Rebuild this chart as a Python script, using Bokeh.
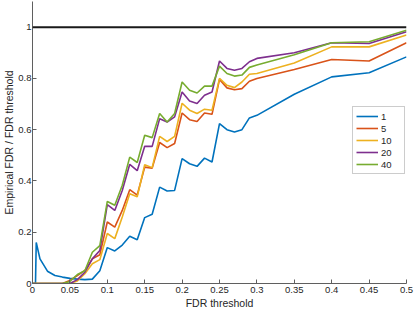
from bokeh.plotting import figure
from bokeh.models import Range1d, FixedTicker, Span
from bokeh.embed import file_html
from bokeh.resources import INLINE

# ---------------- data ----------------
thresholds = [0, 0.004, 0.005, 0.01, 0.02, 0.03, 0.04,
              0.05, 0.06, 0.07, 0.08, 0.09, 0.10, 0.11, 0.12, 0.13, 0.14,
              0.15, 0.16, 0.17, 0.18, 0.19, 0.20, 0.21, 0.22, 0.23, 0.24,
              0.25, 0.26, 0.27, 0.28, 0.29, 0.30,
              0.35, 0.40, 0.45, 0.50]

series_names = ["1", "5", "10", "20", "40"]

s1 = [0, 0, 0.160, 0.096, 0.048, 0.031, 0.025,
      0.020, 0.017, 0.015, 0.017, 0.050, 0.140, 0.127, 0.150, 0.184, 0.171,
      0.257, 0.270, 0.376, 0.361, 0.363, 0.487, 0.467, 0.457, 0.489, 0.474,
      0.624, 0.600, 0.591, 0.600, 0.646, 0.656,
      0.738, 0.806, 0.822, 0.884]

s5 = [0, 0, 0, 0, 0, 0, 0,
      0.012, 0.031, 0.051, 0.096, 0.112, 0.240, 0.220, 0.285, 0.366, 0.345,
      0.454, 0.450, 0.550, 0.530, 0.546, 0.665, 0.639, 0.632, 0.665, 0.660,
      0.796, 0.763, 0.756, 0.760, 0.789, 0.800,
      0.835, 0.874, 0.868, 0.939]

s10 = [0, 0, 0, 0, 0, 0, 0,
       0.000, 0.010, 0.038, 0.077, 0.093, 0.195, 0.175, 0.259, 0.350, 0.338,
       0.463, 0.452, 0.574, 0.554, 0.574, 0.703, 0.676, 0.663, 0.680, 0.676,
       0.800, 0.773, 0.764, 0.786, 0.816, 0.819,
       0.860, 0.923, 0.923, 0.969]

s20 = [0, 0, 0, 0, 0, 0, 0,
       0.000, 0.015, 0.044, 0.096, 0.129, 0.308, 0.285, 0.363, 0.465, 0.440,
       0.535, 0.535, 0.643, 0.630, 0.650, 0.747, 0.712, 0.702, 0.734, 0.747,
       0.868, 0.839, 0.832, 0.839, 0.865, 0.878,
       0.900, 0.939, 0.936, 0.982]

s40 = [0, 0, 0, 0, 0, 0, 0,
       0.008, 0.035, 0.050, 0.122, 0.148, 0.320, 0.305, 0.383, 0.493, 0.472,
       0.578, 0.569, 0.663, 0.630, 0.663, 0.786, 0.754, 0.743, 0.770, 0.770,
       0.848, 0.819, 0.809, 0.813, 0.843, 0.852,
       0.892, 0.939, 0.943, 0.988]

ref_level = 1

x_ticks = [0, 0.05, 0.1, 0.15, 0.2, 0.25, 0.3, 0.35, 0.4, 0.45, 0.5]
x_tick_labels = ["0", "0.05", "0.1", "0.15", "0.2", "0.25", "0.3", "0.35", "0.4", "0.45", "0.5"]
y_ticks = [0, 0.2, 0.4, 0.6, 0.8, 1]
y_tick_labels = ["0", "0.2", "0.4", "0.6", "0.8", "1"]

colors = ["#0072BD", "#D95319", "#EDB120", "#7E2F8E", "#77AC30"]

# ---------------- figure ----------------
FONT = "Liberation Sans"
TXT = "#262626"

p = figure(width=415, height=312, output_backend="svg", toolbar_location=None,
           x_range=Range1d(0, 0.5), y_range=Range1d(0, 1.1),
           min_border_left=24, min_border_right=9, min_border_top=1,
           min_border_bottom=29)
p.outline_line_color = None
p.grid.visible = False
p.background_fill_color = "white"
p.border_fill_color = "white"

for ax in (p.xaxis[0], p.yaxis[0]):
    ax.axis_line_color = "#5f5f5f"
    ax.axis_line_width = 1
    ax.major_tick_line_color = "#5f5f5f"
    ax.major_tick_in = 4
    ax.major_tick_out = 0
    ax.minor_tick_line_color = None
    ax.major_label_text_font = FONT
    ax.major_label_text_font_size = "9.5px"
    ax.major_label_text_color = TXT
    ax.axis_label_text_font = FONT
    ax.axis_label_text_font_size = "10.5px"
    ax.axis_label_text_color = TXT
    ax.axis_label_text_font_style = "normal"

p.xaxis.ticker = FixedTicker(ticks=x_ticks)
p.xaxis.major_label_overrides = dict(zip(x_ticks, x_tick_labels))
p.xaxis.axis_label = "FDR threshold"
p.xaxis.major_label_standoff = 3
p.xaxis.axis_label_standoff = 1

p.yaxis.ticker = FixedTicker(ticks=y_ticks)
p.yaxis.major_label_overrides = dict(zip(y_ticks, y_tick_labels))
p.yaxis.axis_label = "Empirical FDR / FDR threshold"
p.yaxis.major_label_standoff = 1
p.yaxis.axis_label_standoff = 0

p.add_layout(Span(location=ref_level, dimension="width", line_color="#1a1a1a",
                  line_width=2))

for name, ys, c in zip(series_names, [s1, s5, s10, s20, s40], colors):
    p.line(thresholds, ys, line_color=c, line_width=1.6, legend_label=name)

lg = p.legend[0]
lg.location = (320, 109)
lg.label_text_font = FONT
lg.label_text_font_size = "9.5px"
lg.label_text_color = TXT
lg.border_line_color = "#9a9a9a"
lg.border_line_width = 1
lg.background_fill_color = "white"
lg.background_fill_alpha = 1
lg.glyph_width = 22
lg.glyph_height = 12
lg.label_height = 12
lg.label_standoff = 3
lg.spacing = 0
lg.padding = 3
lg.margin = 0

open("out.html", "w").write(file_html(p, INLINE))
